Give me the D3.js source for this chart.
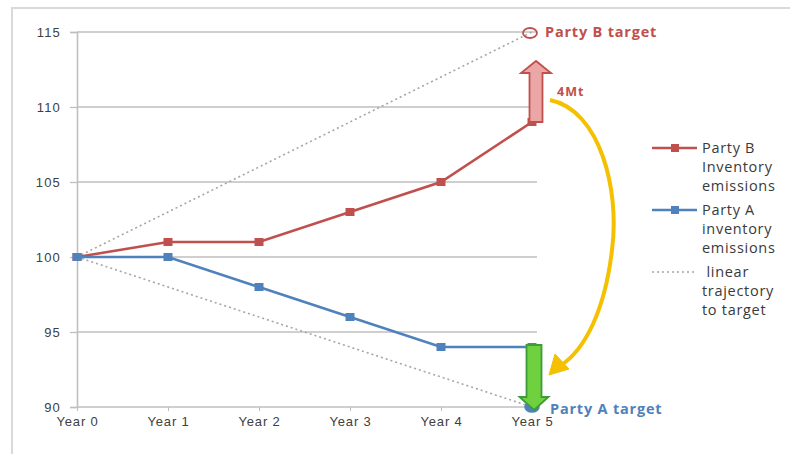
<!DOCTYPE html>
<html><head><meta charset="utf-8">
<script src="https://cdn.jsdelivr.net/npm/d3@7"></script>
<style>body{margin:0;background:#fff;}svg{display:block;font-family:"Open Sans",sans-serif;}</style>
</head><body>
<svg id="c" width="790" height="454"></svg>
<script>
const categories = ["Year 0","Year 1","Year 2","Year 3","Year 4","Year 5"];
const partyB = [100,101,101,103,105,109];
const partyA = [100,100,98,96,94,94];
const trajB = [100,115];
const trajA = [100,90];
const yTicks = [90,95,100,105,110,115];
const targetB = 115, targetA = 90;

const svg = d3.select("#c");
const x = d3.scalePoint().domain(categories).range([77,532]);
const y = d3.scaleLinear().domain([90,115]).range([407,32]);

// frame
svg.append("path").attr("d","M12,454 L12,8 L790,8").attr("fill","none").attr("stroke","#d9d9d9").attr("stroke-width",2);

// gridlines
svg.append("g").selectAll("line").data(yTicks.slice(1)).join("line")
  .attr("x1",77).attr("x2",537).attr("y1",d=>y(d)).attr("y2",d=>y(d))
  .attr("stroke","#bfbfbf").attr("stroke-width",1.3);

// axes
const ya = svg.append("g").attr("transform","translate(77,0)")
  .call(d3.axisLeft(y).tickValues(yTicks).tickSize(7).tickPadding(9));
ya.select(".domain").attr("stroke","#bfbfbf").attr("stroke-width",1.6);
ya.selectAll(".tick line").attr("stroke","#bfbfbf").attr("stroke-width",1.3);
ya.selectAll("text").attr("fill","#404040").attr("font-size",13).attr("letter-spacing",1.2);
const xa = svg.append("g").attr("transform","translate(0,407)")
  .call(d3.axisBottom(x).tickSize(4).tickPadding(6).tickSizeOuter(0));
xa.select(".domain").attr("stroke","#bfbfbf").attr("stroke-width",1.6).attr("d","M77,0H537");
xa.selectAll(".tick line").attr("stroke","#bfbfbf");
xa.selectAll("text").attr("fill","#404040").attr("font-size",13).attr("letter-spacing",0.8);

// trajectories
[trajB,trajA].forEach(t=>{
  svg.append("line").attr("x1",x(categories[0])).attr("y1",y(t[0]))
    .attr("x2",x(categories[5])).attr("y2",y(t[1]))
    .attr("stroke","#a6a6a6").attr("stroke-width",1.6).attr("stroke-dasharray","2,3");
});

const line = d3.line().x((d,i)=>x(categories[i])).y(d=>y(d));
const series = [{v:partyB,c:"#c0504d"},{v:partyA,c:"#4f81bd"}];
series.forEach(s=>{
  svg.append("path").attr("d",line(s.v)).attr("fill","none").attr("stroke",s.c).attr("stroke-width",2.6);
  svg.append("g").selectAll("rect").data(s.v).join("rect")
    .attr("x",(d,i)=>x(categories[i])-4.5).attr("y",d=>y(d)-4).attr("width",9).attr("height",8)
    .attr("fill",s.c);
});

// target markers
const x5 = x(categories[5]);
svg.append("ellipse").attr("cx",x5-2).attr("cy",y(targetB)+1).attr("rx",7).attr("ry",5)
  .attr("fill","none").attr("stroke","#c0504d").attr("stroke-width",1.8);
svg.append("ellipse").attr("cx",x5).attr("cy",y(targetA)).attr("rx",7).attr("ry",5)
  .attr("fill","#4f81bd").attr("stroke","#4f81bd").attr("stroke-width",1.5);
svg.append("text").attr("x",x5+13).attr("y",y(targetB)+5).attr("fill","#c0504d")
  .attr("font-size",14.5).attr("font-weight","bold").attr("letter-spacing",0.8).text("Party B target");
svg.append("text").attr("x",x5+18).attr("y",y(targetA)+7).attr("fill","#4f81bd")
  .attr("font-size",14.5).attr("font-weight","bold").attr("letter-spacing",0.8).text("Party A target");

// vertical block arrows
function vArrow(cx, yStart, yTip, shaftW, headW, headL, fill, stroke){
  const dir = yTip < yStart ? -1 : 1;
  const hb = yTip - dir*headL;
  const p = [[cx-shaftW/2,yStart],[cx-shaftW/2,hb],[cx-headW/2,hb],[cx,yTip],[cx+headW/2,hb],[cx+shaftW/2,hb],[cx+shaftW/2,yStart]];
  svg.append("path").attr("d","M"+p.map(d=>d.join(",")).join("L")+"Z")
    .attr("fill",fill).attr("stroke",stroke).attr("stroke-width",1.8).attr("stroke-linejoin","miter");
}
vArrow(x5+4, y(partyB[5]), 61, 13, 30, 12, "#eba7a5", "#c0504d");
vArrow(x5+2, y(partyA[5])-2, 410, 15, 29, 13, "#6fd13f", "#3f9a3a");

svg.append("text").attr("x",x5+25).attr("y",96).attr("fill","#c0504d")
  .attr("font-size",12.5).attr("font-weight","bold").attr("letter-spacing",1).text("4Mt");

// yellow curved arrow
svg.append("path").attr("d","M550,100 C600,110 620,190 612,250 C605,310 585,350 560,366")
  .attr("fill","none").attr("stroke","#f5c000").attr("stroke-width",4);
svg.append("path").attr("d","M549,375 L555,354 L569,369 Z").attr("fill","#f5c000").attr("stroke","#f5c000").attr("stroke-width",1);

// legend
const leg = svg.append("g");
const legItems = [
  {c:"#c0504d", t:["Party B","Inventory","emissions"], y:148, dash:false},
  {c:"#4f81bd", t:["Party A","inventory","emissions"], y:210, dash:false},
  {c:"#a6a6a6", t:[" linear","trajectory","to target"], y:272, dash:true}
];
legItems.forEach(it=>{
  const l = leg.append("line").attr("x1",652).attr("x2",697).attr("y1",it.y).attr("y2",it.y)
    .attr("stroke",it.c).attr("stroke-width",it.dash?1.6:2.6);
  if(it.dash) l.attr("stroke-dasharray","2,3");
  else leg.append("rect").attr("x",671).attr("y",it.y-4).attr("width",8).attr("height",8).attr("fill",it.c);
  const tx = leg.append("text").attr("x",702).attr("y",it.y+5).attr("font-size",14.5).attr("letter-spacing",0.7).attr("fill","#3a3a3a");
  it.t.forEach((s,i)=>tx.append("tspan").attr("x",702).attr("dy",i?18.8:0).attr("xml:space","preserve").text(s));
});
</script>
</body></html>
